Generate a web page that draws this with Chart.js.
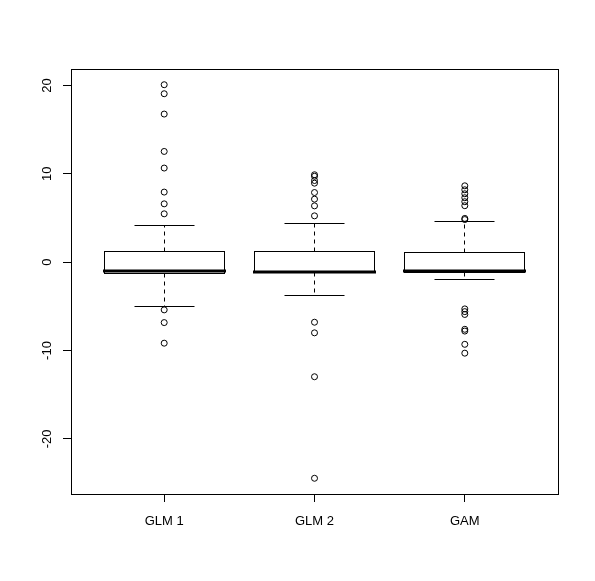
<!DOCTYPE html>
<html>
<head>
<meta charset="utf-8">
<script src="https://cdn.jsdelivr.net/npm/chart.js@4.4.1/dist/chart.umd.min.js"></script>
<style>
  html, body { margin: 0; padding: 0; background: #ffffff; }
  #wrap { width: 595px; height: 581px; position: relative; }
</style>
</head>
<body>
<div id="wrap"><canvas id="c" width="595" height="581"></canvas></div>
<script>
// ---- data ----
const categories = ['GLM 1', 'GLM 2', 'GAM'];
const lowerWhisker = [-4.98, -3.72, -1.92];
const q1 = [-1.29, -1.16, -1.13];
const median = [-1.02, -1.13, -1.04];
const q3 = [1.25, 1.25, 1.13];
const upperWhisker = [4.19, 4.34, 4.58];
const outliersGLM1 = [20.08, 19.06, 16.76, 12.53, 10.65, 7.93, 6.6, 5.47, -5.4, -6.84, -9.17];
const outliersGLM2 = [9.89, 9.72, 9.24, 8.94, 7.88, 7.13, 6.37, 5.24, -6.8, -8.0, -12.97, -24.46];
const outliersGAM = [8.64, 8.19, 7.74, 7.29, 6.84, 6.39, 4.95, 4.82, -5.29, -5.6, -5.92, -7.6, -7.8, -9.3, -10.3];
const yTicks = [-20, -10, 0, 10, 20];

const outlierSets = [outliersGLM1, outliersGLM2, outliersGAM];
const outlierPoints = [];
outlierSets.forEach((arr, i) => arr.forEach(v => outlierPoints.push({ x: i + 1, y: v })));

const boxWex = 0.8;
const stapleWex = 0.5;

function crisp(v) { return Math.floor(v) + 0.5; }

const boxPlugin = {
  id: 'rbox',
  beforeDatasetsDraw(chart) {
    const ctx = chart.ctx;
    const xs = chart.scales.x, ys = chart.scales.y;
    ctx.save();
    ctx.strokeStyle = '#000';
    categories.forEach((c, i) => {
      const pos = i + 1;
      const cx = crisp(xs.getPixelForValue(pos));
      const left = crisp(xs.getPixelForValue(pos - boxWex / 2));
      const right = crisp(xs.getPixelForValue(pos + boxWex / 2));
      const capL = crisp(xs.getPixelForValue(pos - boxWex * stapleWex / 2));
      const capR = crisp(xs.getPixelForValue(pos + boxWex * stapleWex / 2));
      const yQ1 = crisp(ys.getPixelForValue(q1[i]));
      const yQ3 = crisp(ys.getPixelForValue(q3[i]));
      const yMed = ys.getPixelForValue(median[i]);
      const yLo = crisp(ys.getPixelForValue(lowerWhisker[i]));
      const yHi = crisp(ys.getPixelForValue(upperWhisker[i]));

      // whiskers (dashed)
      ctx.lineWidth = 1;
      ctx.setLineDash([4, 4]);
      ctx.beginPath();
      ctx.moveTo(cx, yQ3); ctx.lineTo(cx, yHi);
      ctx.moveTo(cx, yQ1); ctx.lineTo(cx, yLo);
      ctx.stroke();
      ctx.setLineDash([]);

      // staples
      ctx.beginPath();
      ctx.moveTo(capL, yHi); ctx.lineTo(capR, yHi);
      ctx.moveTo(capL, yLo); ctx.lineTo(capR, yLo);
      ctx.stroke();

      // box
      ctx.fillStyle = '#fff';
      ctx.fillRect(left, yQ3, right - left, yQ1 - yQ3);
      ctx.strokeRect(left, yQ3, right - left, yQ1 - yQ3);

      // median
      ctx.lineWidth = 3;
      ctx.lineCap = 'square';
      ctx.beginPath();
      ctx.moveTo(left, Math.round(yMed)); ctx.lineTo(right, Math.round(yMed));
      ctx.stroke();
      ctx.lineCap = 'butt';
    });
    ctx.restore();
  },
  afterDraw(chart) {
    const ctx = chart.ctx;
    const a = chart.chartArea;
    ctx.save();
    ctx.strokeStyle = '#000';
    ctx.lineWidth = 1;
    ctx.strokeRect(crisp(a.left), crisp(a.top), Math.round(a.right - a.left), Math.round(a.bottom - a.top));
    ctx.restore();
  }
};

new Chart(document.getElementById('c'), {
  type: 'scatter',
  data: {
    datasets: [{
      label: 'outliers',
      data: outlierPoints,
      pointStyle: 'circle',
      pointRadius: 3,
      pointHoverRadius: 3,
      pointBorderWidth: 1,
      borderColor: '#000',
      backgroundColor: 'rgba(0,0,0,0)'
    }]
  },
  options: {
    responsive: false,
    animation: false,
    events: [],
    layout: { padding: { left: 0, right: 37, top: 69, bottom: 0 } },
    plugins: { legend: { display: false }, tooltip: { enabled: false } },
    scales: {
      x: {
        type: 'linear',
        min: 0.38,
        max: 3.62,
        afterBuildTicks: s => { s.ticks = [1, 2, 3].map(v => ({ value: v })); },
        afterFit: s => { s.height = 87; },
        border: { display: false },
        grid: { drawOnChartArea: false, drawTicks: true, tickLength: 8, color: '#000', lineWidth: 1 },
        ticks: {
          color: '#000',
          font: { family: '"Liberation Sans", Arial, Helvetica, sans-serif', size: 13 },
          padding: 12,
          minRotation: 0, maxRotation: 0,
          callback: v => categories[v - 1]
        }
      },
      y: {
        type: 'linear',
        min: -26.24,
        max: 21.86,
        afterBuildTicks: s => { s.ticks = yTicks.map(v => ({ value: v })); },
        afterFit: s => { s.width = 71; },
        border: { display: false },
        grid: { drawOnChartArea: false, drawTicks: true, tickLength: 8, color: '#000', lineWidth: 1 },
        ticks: {
          color: '#000',
          font: { family: '"Liberation Sans", Arial, Helvetica, sans-serif', size: 13 },
          padding: 6,
          crossAlign: 'center',
          minRotation: 90, maxRotation: 90,
          callback: v => String(v)
        }
      }
    }
  },
  plugins: [boxPlugin]
});
</script>
</body>
</html>
